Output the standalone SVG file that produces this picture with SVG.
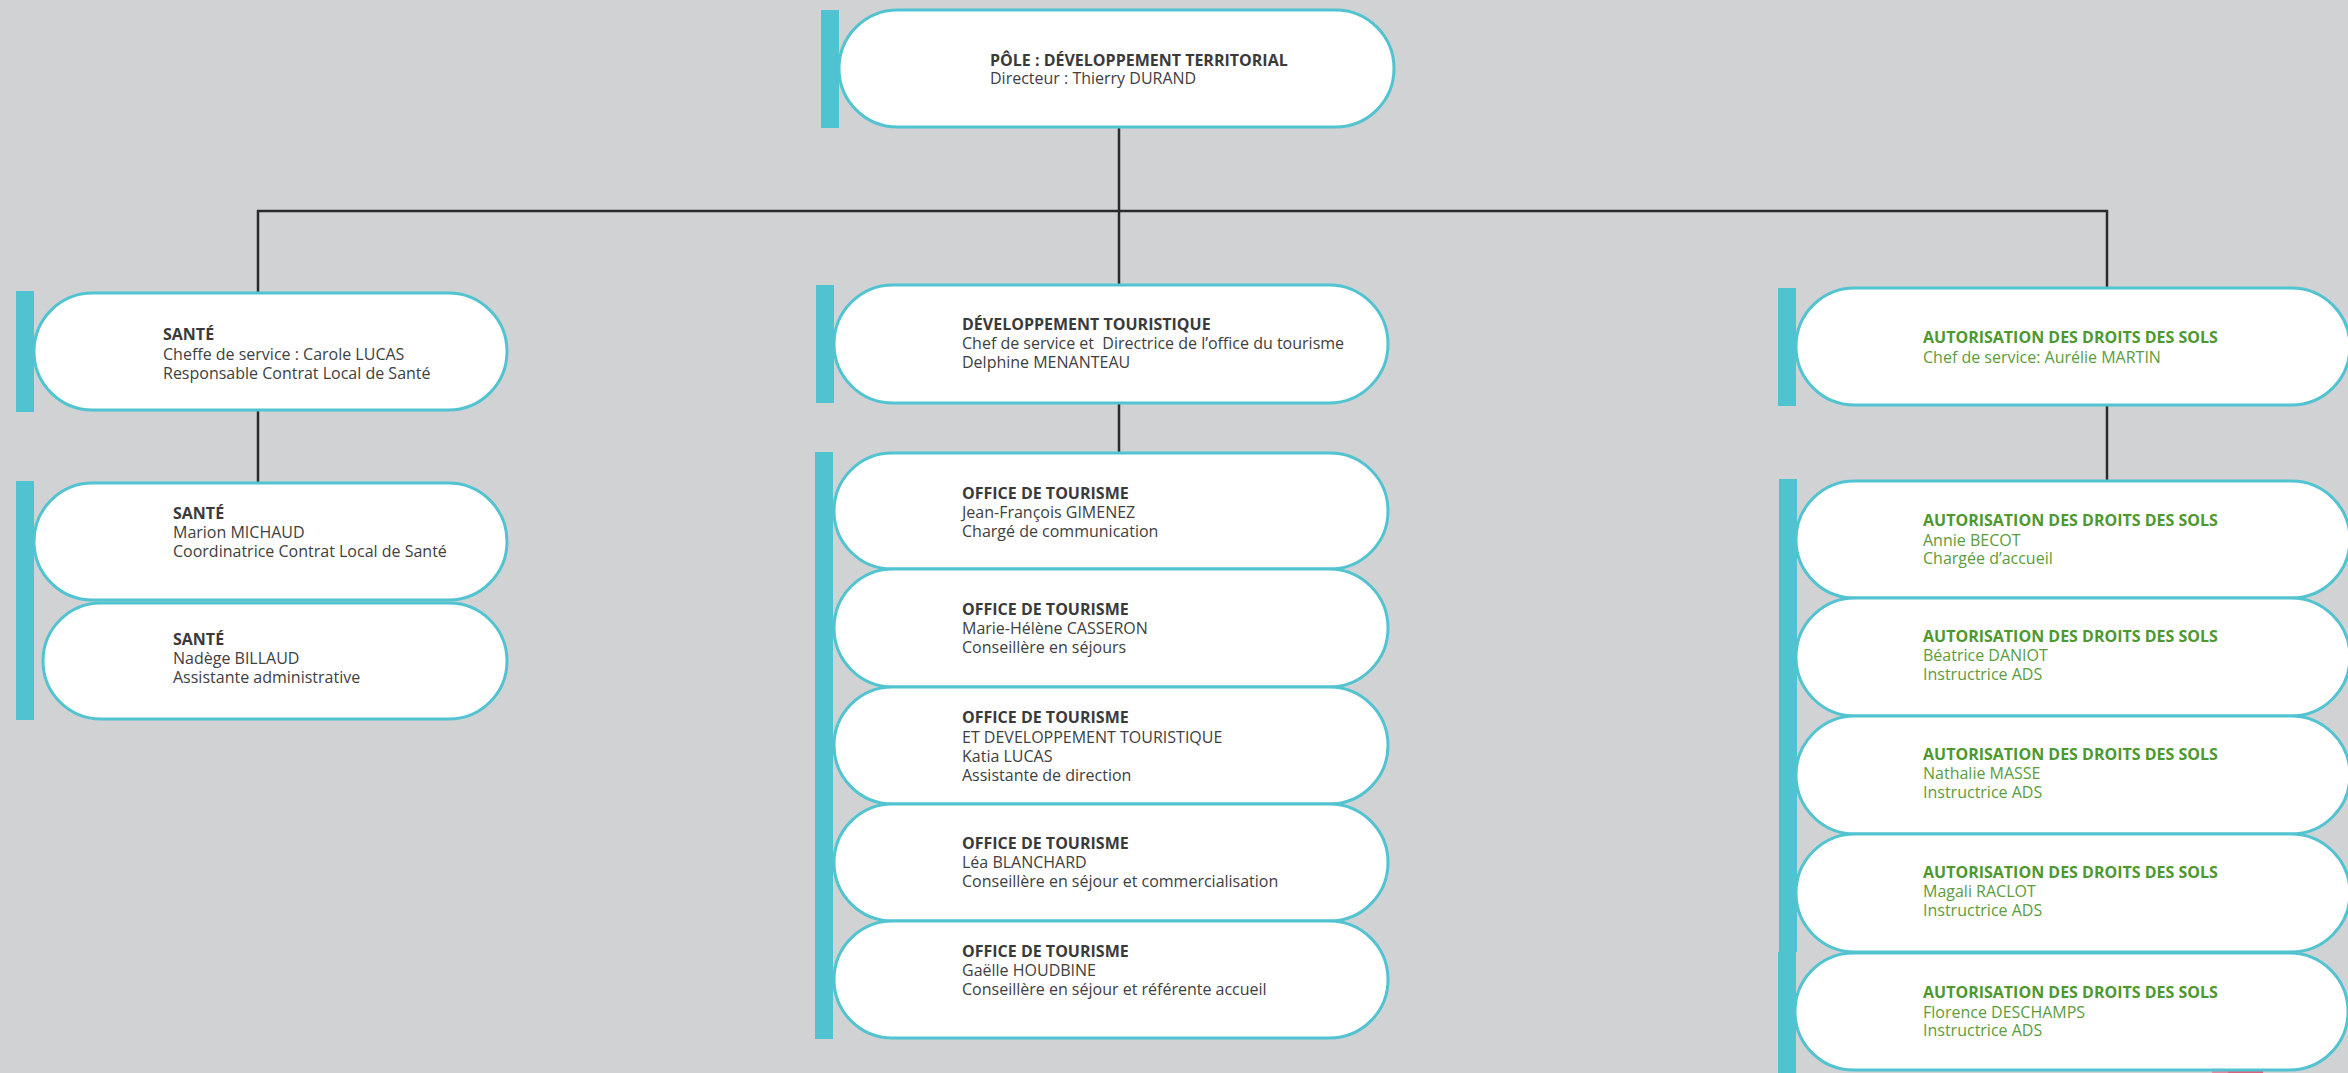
<svg xmlns="http://www.w3.org/2000/svg" width="2348" height="1073" viewBox="0 0 2348 1073">
<style>
.bg{fill:#d1d2d4}
.bar{fill:#50c3d0}
.pill{fill:#ffffff;stroke:#52c3d0;stroke-width:3}
.ln{stroke:#2b2b2b;stroke-width:2.5;fill:none}
text{font-family:"Open Sans","Noto Sans","Liberation Sans",sans-serif;font-size:16px;fill:#404040;white-space:pre}
.b{font-weight:bold;fill:#3a3a3a}
.g{fill:#5b9c3c}
.gb{font-weight:bold;fill:#4e982e}
</style>
<rect class="bg" x="0" y="0" width="2348" height="1073"/>
<rect x="2212" y="1069" width="16" height="4" fill="#e58aa2"/>
<rect x="2228" y="1069" width="35" height="4" fill="#d9637f"/>
<g id="connectors">
<line class="ln" x1="1119" y1="127" x2="1119" y2="211"/>
<line class="ln" x1="257" y1="211" x2="2108" y2="211"/>
<line class="ln" x1="258" y1="210" x2="258" y2="293"/>
<line class="ln" x1="1119" y1="211" x2="1119" y2="285"/>
<line class="ln" x1="2107" y1="210" x2="2107" y2="288"/>
<line class="ln" x1="258" y1="410" x2="258" y2="483"/>
<line class="ln" x1="1119" y1="403" x2="1119" y2="453"/>
<line class="ln" x1="2107" y1="406" x2="2107" y2="481"/>
</g>
<g id="pole">
<rect class="bar" x="821" y="10" width="18" height="118"/>
<rect class="pill" x="839" y="10" width="555" height="117" rx="58.5"/>
<text class="b" x="990" y="66">PÔLE : DÉVELOPPEMENT TERRITORIAL</text>
<text x="990" y="84">Directeur : Thierry DURAND</text>
</g>
<g id="sante">
<rect class="bar" x="16" y="291" width="18" height="121"/>
<rect class="pill" x="34" y="293" width="473" height="117" rx="58.5"/>
<text class="b" x="163" y="340">SANTÉ</text>
<text x="163" y="360">Cheffe de service : Carole LUCAS</text>
<text x="163" y="379">Responsable Contrat Local de Santé</text>
</g>
<g id="dev-touristique">
<rect class="bar" x="816" y="285" width="18" height="118"/>
<rect class="pill" x="834" y="285" width="554" height="118" rx="59"/>
<text class="b" x="962" y="330">DÉVELOPPEMENT TOURISTIQUE</text>
<text x="962" y="349" xml:space="preserve">Chef de service et  Directrice de l’office du tourisme</text>
<text x="962" y="368">Delphine MENANTEAU</text>
</g>
<g id="ads">
<rect class="bar" x="1778" y="288" width="18" height="118"/>
<rect class="pill" x="1796" y="288" width="554" height="117" rx="58.5"/>
<text class="gb" x="1923" y="343">AUTORISATION DES DROITS DES SOLS</text>
<text class="g" x="1923" y="363">Chef de service: Aurélie MARTIN</text>
</g>
<g id="sante-staff">
<rect class="bar" x="16" y="481" width="18" height="239"/>
<g id="sante-michaud">
<rect class="pill" x="34" y="483" width="473" height="117" rx="58.5"/>
<text class="b" x="173" y="519">SANTÉ</text>
<text x="173" y="538">Marion MICHAUD</text>
<text x="173" y="557">Coordinatrice Contrat Local de Santé</text>
</g>
<g id="sante-billaud">
<rect class="pill" x="43" y="603" width="464" height="116" rx="58"/>
<text class="b" x="173" y="645">SANTÉ</text>
<text x="173" y="664">Nadège BILLAUD</text>
<text x="173" y="683">Assistante administrative</text>
</g>
</g>
<g id="office-staff">
<rect class="bar" x="815" y="452" width="18" height="587"/>
<g id="ot-gimenez">
<rect class="pill" x="834" y="453" width="554" height="116" rx="58"/>
<text class="b" x="962" y="499">OFFICE DE TOURISME</text>
<text x="962" y="518">Jean-François GIMENEZ</text>
<text x="962" y="537">Chargé de communication</text>
</g>
<g id="ot-casseron">
<rect class="pill" x="834" y="569" width="554" height="118" rx="59"/>
<text class="b" x="962" y="615">OFFICE DE TOURISME</text>
<text x="962" y="634">Marie-Hélène CASSERON</text>
<text x="962" y="653">Conseillère en séjours</text>
</g>
<g id="ot-lucas">
<rect class="pill" x="834" y="687" width="554" height="117" rx="58.5"/>
<text class="b" x="962" y="723">OFFICE DE TOURISME</text>
<text x="962" y="743">ET DEVELOPPEMENT TOURISTIQUE</text>
<text x="962" y="762">Katia LUCAS</text>
<text x="962" y="781">Assistante de direction</text>
</g>
<g id="ot-blanchard">
<rect class="pill" x="834" y="804" width="554" height="117" rx="58.5"/>
<text class="b" x="962" y="849">OFFICE DE TOURISME</text>
<text x="962" y="868">Léa BLANCHARD</text>
<text x="962" y="887">Conseillère en séjour et commercialisation</text>
</g>
<g id="ot-houdbine">
<rect class="pill" x="834" y="921" width="554" height="117" rx="58.5"/>
<text class="b" x="962" y="957">OFFICE DE TOURISME</text>
<text x="962" y="976">Gaëlle HOUDBINE</text>
<text x="962" y="995">Conseillère en séjour et référente accueil</text>
</g>
</g>
<g id="ads-staff">
<rect class="bar" x="1779" y="479" width="18" height="473"/>
<rect class="bar" x="1778" y="952" width="18" height="121"/>
<g id="ads-becot">
<rect class="pill" x="1796" y="481" width="554" height="117" rx="58.5"/>
<text class="gb" x="1923" y="526">AUTORISATION DES DROITS DES SOLS</text>
<text class="g" x="1923" y="546">Annie BECOT</text>
<text class="g" x="1923" y="564">Chargée d’accueil</text>
</g>
<g id="ads-daniot">
<rect class="pill" x="1796" y="598" width="554" height="118" rx="59"/>
<text class="gb" x="1923" y="642">AUTORISATION DES DROITS DES SOLS</text>
<text class="g" x="1923" y="661">Béatrice DANIOT</text>
<text class="g" x="1923" y="680">Instructrice ADS</text>
</g>
<g id="ads-masse">
<rect class="pill" x="1796" y="716" width="554" height="118" rx="59"/>
<text class="gb" x="1923" y="760">AUTORISATION DES DROITS DES SOLS</text>
<text class="g" x="1923" y="779">Nathalie MASSE</text>
<text class="g" x="1923" y="798">Instructrice ADS</text>
</g>
<g id="ads-raclot">
<rect class="pill" x="1796" y="834" width="554" height="118" rx="59"/>
<text class="gb" x="1923" y="878">AUTORISATION DES DROITS DES SOLS</text>
<text class="g" x="1923" y="897">Magali RACLOT</text>
<text class="g" x="1923" y="916">Instructrice ADS</text>
</g>
<g id="ads-deschamps">
<rect class="pill" x="1795" y="953" width="553" height="117" rx="58.5"/>
<text class="gb" x="1923" y="998">AUTORISATION DES DROITS DES SOLS</text>
<text class="g" x="1923" y="1018">Florence DESCHAMPS</text>
<text class="g" x="1923" y="1036">Instructrice ADS</text>
</g>
</g>
</svg>
